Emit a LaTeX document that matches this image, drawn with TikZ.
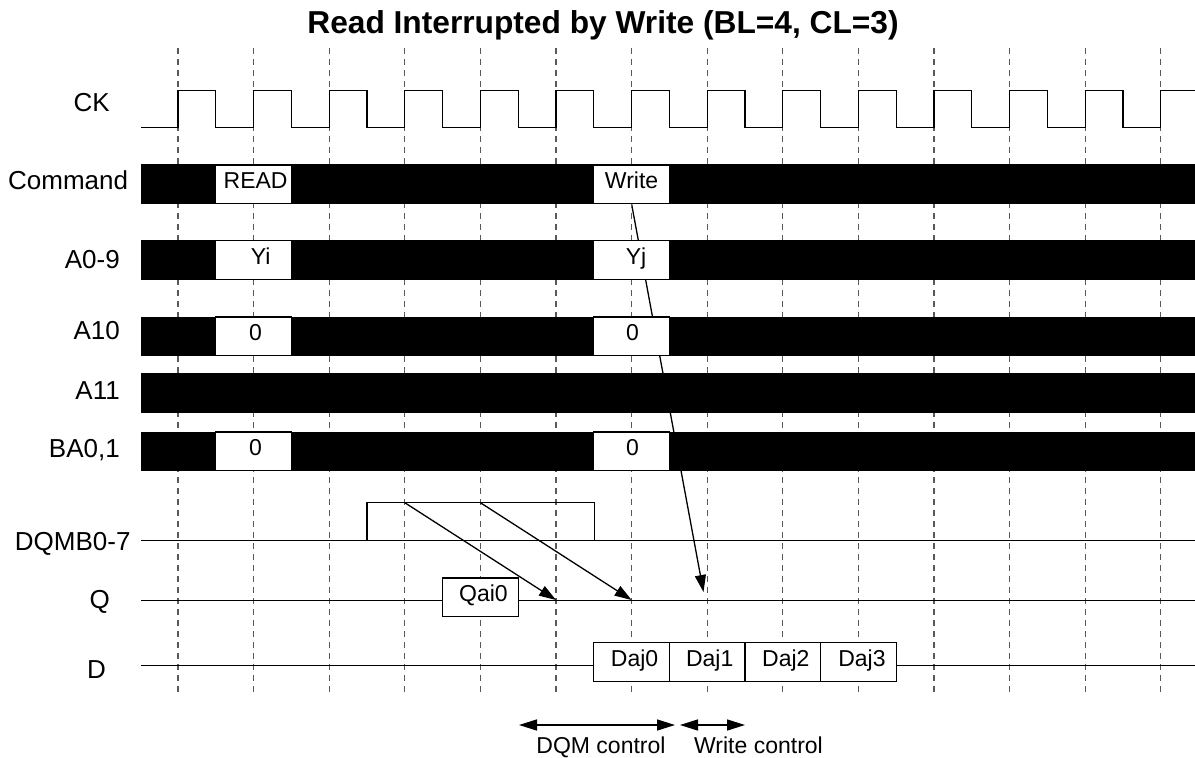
\documentclass[tikz,border=0pt]{standalone}
\usepackage{fontspec}
\setmainfont{Liberation Sans}
\usetikzlibrary{arrows.meta,backgrounds}
\begin{document}
\begin{tikzpicture}[x=1pt,y=-1pt,
  grid/.style={draw=black!65, line width=1.2pt, dash pattern=on 6pt off 5pt},
  sig/.style={draw=black, line width=1.3pt},
  wbox/.style={draw=black, fill=white, line width=1.3pt, inner sep=0pt,
    minimum width=75.6pt, minimum height=38.5pt, text height=16pt, text depth=8pt,
    font=\fontsize{23}{27}\selectfont},
  lbl/.style={font=\fontsize{26}{30}\selectfont, inner sep=0pt, anchor=base east},
  captxt/.style={font=\fontsize{23}{27}\selectfont, inner sep=0pt, anchor=base},
  arr/.style={draw=black, line width=1.3pt, -{Triangle[length=17pt,width=11pt]}},
  darr/.style={draw=black, line width=1.5pt, {Triangle[length=18pt,width=11pt]}-{Triangle[length=18pt,width=11pt]}},
]
\useasboundingbox (0,0) rectangle (1195,758);

% title
\node[font=\bfseries\fontsize{31.7}{36}\selectfont, inner sep=0pt, anchor=base] (title) at (603,33) {Read Interrupted by Write (BL=4, CL=3)};

% grid
\foreach \k in {0,...,13} \draw[grid] ({178+75.6*\k},48) -- ({178+75.6*\k},695);

% clock
\draw[sig] (141,127.3) \foreach \k in {0,...,12} { -- ({178+75.6*\k},127.3) -- ({178+75.6*\k},90.3) -- ({215.8+75.6*\k},90.3) -- ({215.8+75.6*\k},127.3) } -- (1160.8,127.3) -- (1160.8,90.3) -- (1195,90.3);

% bars
\fill[black] (141,164.3) rectangle (1195,204);
\fill[black] (141,240) rectangle (1195,280);
\fill[black] (141,316.7) rectangle (1195,356);
\fill[black] (141,373.3) rectangle (1195,412.7);
\fill[black] (141,431.7) rectangle (1195,470.7);

% boxes in bars
\node[wbox] (rd) at (253.6,184.15) {\hspace*{4pt}READ};
\node[wbox] (wr) at (631.6,184.15) {Write};
\node[wbox] (yi) at (253.6,260) {\hspace*{14pt}Yi};
\node[wbox] (yj) at (631.6,260) {\hspace*{9pt}Yj};
\node[wbox] (a1) at (253.6,336.35) {\hspace*{4pt}0};
\node[wbox] (a2) at (631.6,336.35) {\hspace*{2pt}0};
\node[wbox] (b1) at (253.6,451.2) {\hspace*{4pt}0};
\node[wbox] (b2) at (631.6,451.2) {\hspace*{2pt}0};

% signal lines
\draw[sig] (141,540.7) -- (1195,540.7);
\draw[sig] (141,600.7) -- (1195,600.7);
\draw[sig] (141,665.7) -- (1195,665.7);

% DQMB box (unfilled)
\node[draw=black, line width=1.3pt, inner sep=0pt, minimum width=227.4pt, minimum height=38pt] (dqb) at (480.7,521.7) {};

% Q box
\node[wbox, minimum height=38.7pt] (qai) at (480.4,597.4) {\hspace*{6pt}Qai0};

% D boxes
\node[wbox, minimum height=38.6pt] (d0) at (631.6,662) {\hspace*{6pt}Daj0};
\node[wbox, minimum height=38.6pt] (d1) at (707.2,662) {\hspace*{5pt}Daj1};
\node[wbox, minimum height=38.6pt] (d2) at (782.8,662) {\hspace*{6pt}Daj2};
\node[wbox, minimum height=38.6pt] (d3) at (858.4,662) {\hspace*{7pt}Daj3};

% arrows DQMB -> Q
\coordinate (s1) at (404.8,502.7);
\coordinate (s2) at (480.4,502.7);
\coordinate (t1) at (556,600);
\coordinate (t2) at (631.6,600);
\coordinate (t3) at (703.5,592);
\draw[arr] (s1) -- (t1);
\draw[arr] (s2) -- (t2);
\begin{pgfonlayer}{background}
\draw[arr] (wr.south) -- (t3);
\end{pgfonlayer}

% bottom arrows
\coordinate (da) at (519,725);
\coordinate (db) at (675,725);
\coordinate (wa) at (680,725);
\coordinate (wb) at (745,725);
\draw[darr] (da) -- (db);
\draw[darr] (wa) -- (wb);
\node[captxt] (dqmc) at (601,753.5) {DQM control};
\node[captxt] (wrc) at (758.5,753.5) {Write control};

% labels
\node[lbl] (lck) at (110,111.7) {CK};
\node[lbl] (lcmd) at (128.3,189.3) {Command};
\node[lbl] (la09) at (120,268.3) {A0-9};
\node[lbl] (la10) at (120,339) {A10};
\node[lbl] (la11) at (120,399) {A11};
\node[lbl] (lba) at (120,457.7) {BA0,1};
\node[lbl] (ldqm) at (130.7,550) {DQMB0-7};
\node[lbl] (lq) at (110,608) {Q};
\node[lbl] (ld) at (106,678.3) {D};
\end{tikzpicture}
\end{document}
